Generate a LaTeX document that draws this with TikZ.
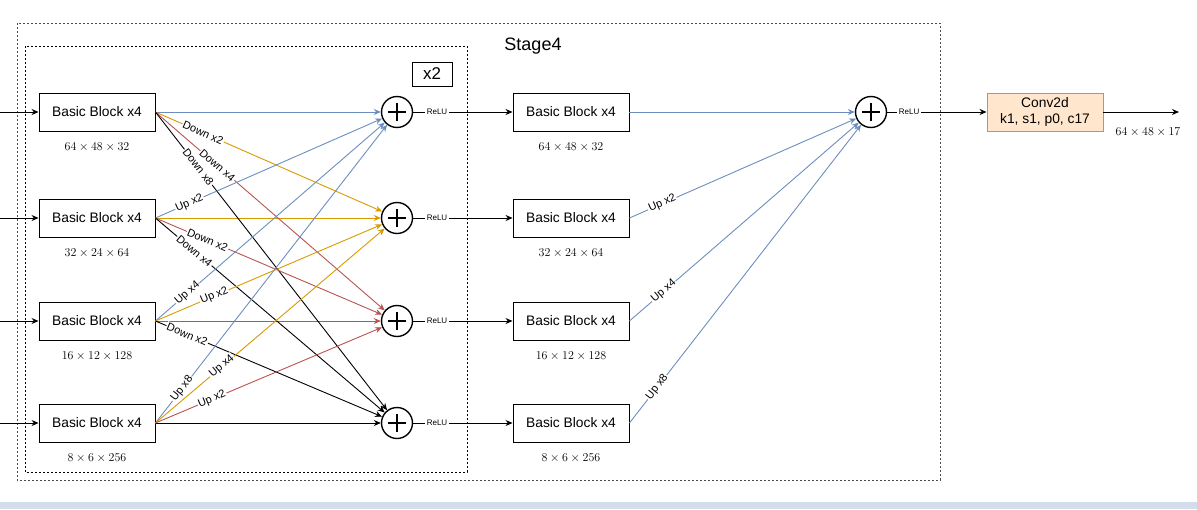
\documentclass[tikz,border=0pt]{standalone}
\usepackage{fontspec}
\setmainfont{Liberation Sans}
\usetikzlibrary{arrows.meta,positioning}
\definecolor{fuseblue}{HTML}{6C8EBF}
\definecolor{fuseorange}{HTML}{D79B00}
\definecolor{fusered}{HTML}{B85450}
\definecolor{convfill}{HTML}{FFE6CC}
\definecolor{barblue}{HTML}{D3DDEB}
\tikzset{
  blockbox/.style={
    draw=black,
    line width=0.9pt,
    minimum width=116pt,
    minimum height=38pt,
    inner sep=0pt,
    align=center,
    font=\fontsize{13.8}{16}\selectfont
  },
  headbox/.style={
    blockbox,
    draw=fuseorange,
    fill=convfill
  },
  sumnode/.style={
    circle,
    draw=black,
    line width=1.4pt,
    minimum size=31pt,
    inner sep=0pt,
    path picture={
      \draw[line width=1.3pt] ([xshift=-9pt]path picture bounding box.center) -- ([xshift=9pt]path picture bounding box.center);
      \draw[line width=1.3pt] ([yshift=-9pt]path picture bounding box.center) -- ([yshift=9pt]path picture bounding box.center);
    }
  },
  dimlabel/.style={
    inner sep=1pt,
    font=\fontsize{11.7}{13}\selectfont
  },
  linklabel/.style={
    sloped,
    fill=white,
    text=black,
    inner sep=1pt,
    font=\fontsize{11}{12}\selectfont
  },
  relulabel/.style={
    fill=white,
    inner sep=1.5pt,
    font=\fontsize{8}{9}\selectfont
  },
  stageframe/.style={
    draw=black,
    line width=0.7pt,
    dash pattern=on 2pt off 2pt
  },
  arrow/.style={
    -{Stealth[length=7pt,width=6pt]},
    line width=0.9pt
  }
}

\begin{document}
\begin{tikzpicture}[x=1pt,y=-1pt]
\useasboundingbox (0,0) rectangle (1197,509);
% frames
\draw[stageframe, draw=black!70] (17,23) rectangle (940,480);
\draw[stageframe] (25,46) rectangle (467,472);
\node[font=\fontsize{18}{20}\selectfont] (stage) at (533,46) {Stage4};
\node[draw=black, line width=0.9pt, minimum width=40pt, minimum height=24pt, inner sep=0pt,
  font=\fontsize{17}{19}\selectfont] (rep) at (432,74) {x2};
% branches
\foreach \i/\y/\dims in {1/112/64\times48\times32, 2/218/32\times24\times64,
    3/321/16\times12\times128, 4/423/8\times6\times256} {
  \coordinate (in\i) at (0,\y);
  \node[blockbox] (blk\i) at (97,\y) {Basic Block x4};
  \node[dimlabel, below=10.5pt of blk\i] (blkdim\i) {$\dims$};
  \node[sumnode] (add\i) at (397,\y) {};
  \node[blockbox] (mid\i) at (571,\y) {Basic Block x4};
  \node[dimlabel, below=10.5pt of mid\i] (middim\i) {$\dims$};
  \draw[arrow] (in\i) -- (blk\i);
  \draw[arrow] (add\i) -- node[relulabel, pos=0.24] {ReLU} (mid\i);
}
% exchange unit
\foreach \i/\c in {1/fuseblue,2/fuseorange,3/fusered,4/black} {
  \draw[arrow, \c] (blk\i) -- (add\i);
}
\foreach \s/\t/\c/\txt/\p in {
    1/2/fuseorange/Down x2/0.21, 1/3/fusered/Down x4/0.27, 1/4/black/Down x8/0.185,
    2/1/fuseblue/Up x2/0.15, 2/3/fusered/Down x2/0.23, 2/4/black/Down x4/0.17,
    3/1/fuseblue/Up x4/0.14, 3/2/fuseorange/Up x2/0.26, 3/4/black/Down x2/0.14,
    4/1/fuseblue/Up x8/0.115, 4/2/fuseorange/Up x4/0.29, 4/3/fusered/Up x2/0.25} {
  \draw[arrow, \c] (blk\s.east) -- (add\t) node[linklabel, pos=\p] {\txt};
}
% final fusion
\node[sumnode] (addf) at (871,112) {};
\draw[arrow, fuseblue] (mid1) -- (addf);
\foreach \i/\txt/\p in {2/Up x2/0.145, 3/Up x4/0.15, 4/Up x8/0.12} {
  \draw[arrow, fuseblue] (mid\i.east) -- (addf) node[linklabel, pos=\p] {\txt};
}
\node[headbox] (head) at (1045,112) {Conv2d\\k1, s1, p0, c17};
\draw[arrow] (addf) -- node[relulabel, pos=0.22] {ReLU} (head);
\coordinate (outend) at (1179,112);
\draw[arrow] (head) -- (outend);
\node[dimlabel] (outdim) at (1148,132) {$64\times48\times17$};
% scrollbar strip
\fill[barblue] (0,502) rectangle (1197,509);
\end{tikzpicture}
\end{document}
